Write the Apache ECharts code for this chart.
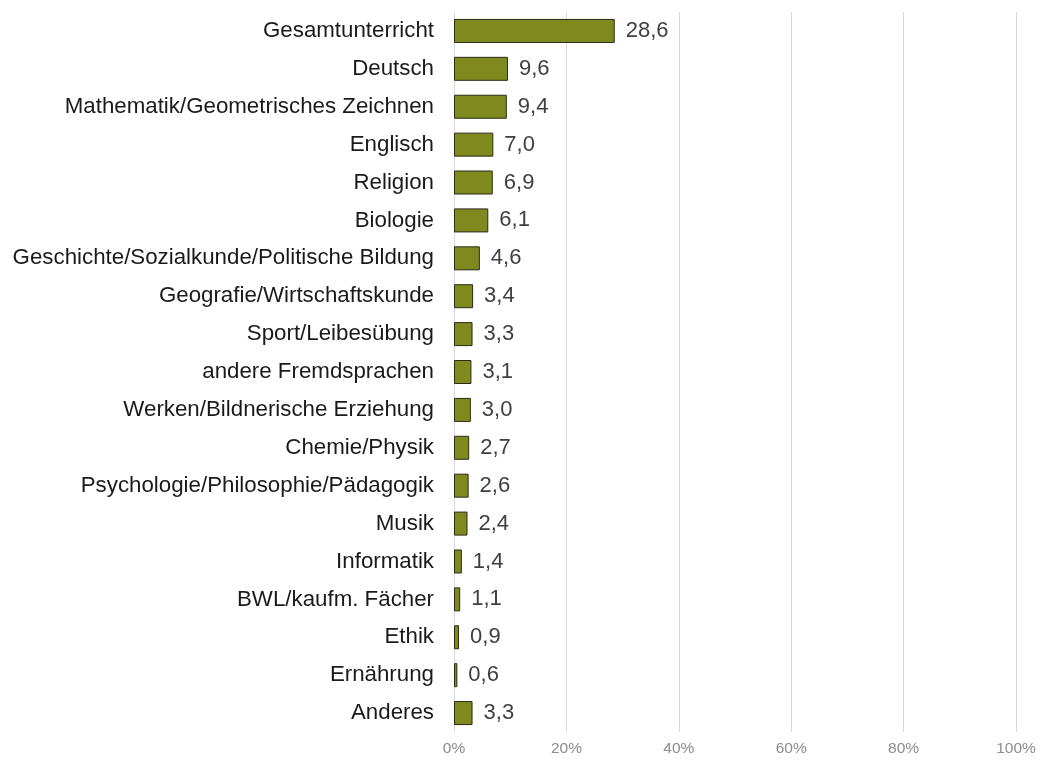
<!DOCTYPE html>
<html>
	<head>
		<meta charset="utf-8" />
		<title></title>
		<script src="https://cdn.jsdelivr.net/npm/echarts@6/dist/echarts.min.js" type="text/javascript" charset="utf-8"></script>
		<style type="text/css">
			body {
				margin: 0;
				background: #fff;
			}
			#main {
				width: 1040px;
				height: 760px;
			}
		</style>
	</head>
	<body>
		<div id="main"></div>
		<script type="text/javascript">
			// Fächer (von oben nach unten) und Anteile in %
			var faecher = [
				'Gesamtunterricht', 'Deutsch', 'Mathematik/Geometrisches Zeichnen', 'Englisch',
				'Religion', 'Biologie', 'Geschichte/Sozialkunde/Politische Bildung',
				'Geografie/Wirtschaftskunde', 'Sport/Leibesübung', 'andere Fremdsprachen',
				'Werken/Bildnerische Erziehung', 'Chemie/Physik', 'Psychologie/Philosophie/Pädagogik',
				'Musik', 'Informatik', 'BWL/kaufm. Fächer', 'Ethik', 'Ernährung', 'Anderes'
			];
			var anteile = [28.6, 9.6, 9.4, 7.0, 6.9, 6.1, 4.6, 3.4, 3.3, 3.1, 3.0, 2.7, 2.6, 2.4, 1.4, 1.1, 0.9, 0.6, 3.3];
			var xTicks = [0, 20, 40, 60, 80, 100];

			var myChart = echarts.init(document.getElementById('main'));
			var option = {
				animation: false,
				grid: {
					left: 454,
					right: 24,
					top: 12,
					bottom: 28
				},
				xAxis: {
					type: 'value',
					min: xTicks[0],
					max: xTicks[xTicks.length - 1],
					interval: 20,
					axisLine: { show: false },
					axisTick: { show: false },
					splitLine: {
						lineStyle: { color: '#d9d9d9', width: 1 }
					},
					axisLabel: {
						formatter: '{value}%',
						color: '#8c8c8c',
						fontSize: 15.5,
						fontFamily: 'Liberation Sans, Arial',
						margin: 9
					}
				},
				yAxis: {
					type: 'category',
					inverse: true,
					data: faecher,
					axisLine: { show: false },
					axisTick: { show: false },
					axisLabel: {
						color: '#1a1a1a',
						fontSize: 22.3,
						fontFamily: 'Liberation Sans, Arial',
						margin: 20
					}
				},
				series: [{
					type: 'bar',
					data: anteile,
					barWidth: 24,
					itemStyle: {
						color: '#7f8a1e',
						borderColor: '#2b2b1a',
						borderWidth: 1
					},
					label: {
						show: true,
						position: 'right',
						distance: 11,
						color: '#404040',
						fontSize: 22,
						fontFamily: 'Liberation Sans, Arial',
						formatter: function (p) {
							return p.value.toFixed(1).replace('.', ',');
						}
					}
				}]
			};
			myChart.setOption(option);
		</script>
	</body>
</html>
